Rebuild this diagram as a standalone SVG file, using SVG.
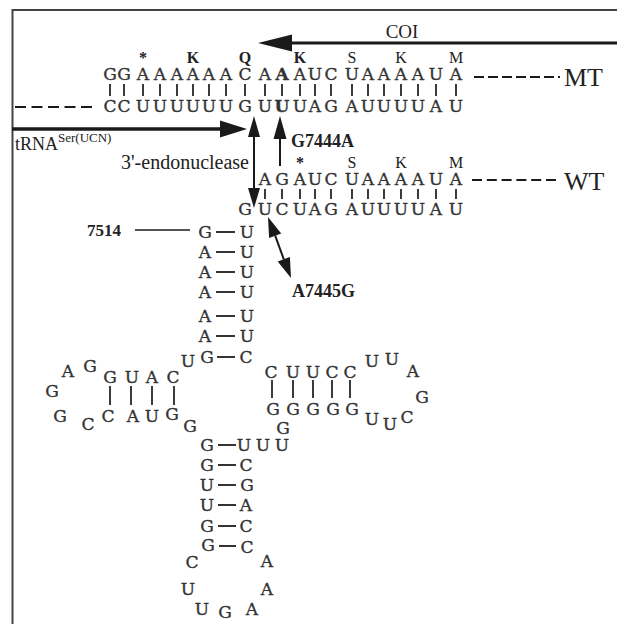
<svg xmlns="http://www.w3.org/2000/svg" width="617" height="624" viewBox="0 0 617 624">
<style>
.nt{font-family:"DejaVu Serif","Liberation Serif",serif;font-size:17px;fill:#333;stroke:#333;stroke-width:0.35;text-anchor:middle}
.lb{font-family:"Liberation Serif","Times New Roman",serif;fill:#222}
.aa{font-family:"Liberation Serif","Times New Roman",serif;font-size:16px;fill:#222;text-anchor:middle}
.b{font-weight:bold}
.tk{stroke:#333;stroke-width:1.9;fill:none}
.ln{stroke:#1a1a1a;fill:none}
.hd{fill:#1a1a1a}
</style>
<rect width="617" height="624" fill="#fff"/>
<path d="M12.5 624V10H617" fill="none" stroke="#444" stroke-width="2"/>

<g id="labels">
<text class="lb" x="402" y="38" font-size="19" text-anchor="middle">COI</text>
<text class="lb" x="564" y="86" font-size="26">MT</text>
<text class="lb" x="564" y="190" font-size="26">WT</text>
<text class="lb" x="15" y="150" font-size="18">tRNA<tspan font-size="13" dy="-8">Ser(UCN)</tspan></text>
<text class="lb" x="249" y="169" font-size="20" text-anchor="end">3'-endonuclease</text>
<text class="lb b" x="291" y="147" font-size="18">G7444A</text>
<text class="lb b" x="292" y="297" font-size="18">A7445G</text>
<text class="lb b" x="121" y="236" font-size="17" text-anchor="end">7514</text>
</g>

<g id="mt-duplex">
<text class="aa" y="63"><tspan class="b" x="143 193 245 300">*KQK</tspan><tspan x="352 401 456">SKM</tspan></text>
<text class="nt" y="80"><tspan x="110 124 143 160 177 193 209 226 245 265">GGAAAAAACA</tspan><tspan class="b" x="282">A</tspan><tspan x="300 315 331 352 368 384 401 418 436 456">AUCUAAAAUA</tspan></text>
<path class="tk" d="M110 84V96M124 84V96M143 84V96M160 84V96M177 84V96M193 84V96M209 84V96M226 84V96M245 84V96M265 84V96M282 84V96M300 84V96M315 84V96M331 84V96M352 84V96M368 84V96M384 84V96M401 84V96M418 84V96M436 84V96M456 84V96"/>
<text class="nt" y="112"><tspan x="110 124 143 160 177 193 209 226 245 265">CCUUUUUUGU</tspan><tspan class="b" x="282">U</tspan><tspan x="300 315 331 352 368 384 401 418 436 456">UAGAUUUUAU</tspan></text>
<line class="ln" x1="474" y1="77" x2="560" y2="77" stroke-width="2" stroke-dasharray="10 4"/>
<line class="ln" x1="15" y1="107" x2="92" y2="107" stroke-width="2" stroke-dasharray="11 5.5"/>
</g>

<g id="wt-duplex">
<text class="aa" y="168"><tspan class="b" x="300">*</tspan><tspan x="352 401 456">SKM</tspan></text>
<text class="nt" y="185" x="265 282 300 315 331 352 368 384 401 418 436 456">AGAUCUAAAAUA</text>
<path class="tk" d="M265 189V199M282 189V199M300 189V199M315 189V199M331 189V199M352 189V199M368 189V199M384 189V199M401 189V199M418 189V199M436 189V199M456 189V199"/>
<text class="nt" y="215" x="245 265 282 300 315 331 352 368 384 401 418 436 456">GUCUAGAUUUUAU</text>
<line class="ln" x1="472" y1="180" x2="556" y2="180" stroke-width="2" stroke-dasharray="10 4.8"/>
</g>

<g id="acceptor-stem">
<text class="nt" x="205" y="238">G</text><text class="nt" x="247" y="238">U</text>
<text class="nt" x="205" y="258">A</text><text class="nt" x="247" y="258">U</text>
<text class="nt" x="205" y="278">A</text><text class="nt" x="247" y="278">U</text>
<text class="nt" x="205" y="298">A</text><text class="nt" x="247" y="298">U</text>
<text class="nt" x="205" y="322">A</text><text class="nt" x="247" y="322">U</text>
<text class="nt" x="205" y="342">A</text><text class="nt" x="247" y="342">U</text>
<text class="nt" x="207" y="363">G</text><text class="nt" x="246" y="363">C</text>
<text class="nt" x="188" y="367">U</text>
<path class="tk" stroke-width="2" d="M216 232H235M216 252H235M216 272H235M216 292H235M216 316H235M216 336H235M217 357H235"/>
</g>

<g id="d-arm">
<text class="nt" y="383" x="110 132 152 173">GUAC</text>
<text class="nt" x="68" y="377">A</text>
<text class="nt" x="90" y="372">G</text>
<text class="nt" x="52" y="397">G</text>
<text class="nt" x="60" y="422">G</text>
<text class="nt" x="88" y="430">C</text>
<text class="nt" y="422" x="108 133 152">CAU</text>
<text class="nt" x="172" y="420">G</text>
<text class="nt" x="190" y="432">G</text>
<path class="tk" d="M110 386V405M131 386V405M152 386V405M174 386V405"/>
</g>

<g id="t-arm">
<text class="nt" y="378" x="271 293 313 332 350">CUUCC</text>
<text class="nt" x="372" y="367">U</text>
<text class="nt" x="392" y="365">U</text>
<text class="nt" x="413" y="377">A</text>
<text class="nt" x="422" y="403">G</text>
<text class="nt" x="407" y="423">C</text>
<text class="nt" x="390" y="430">U</text>
<text class="nt" x="372" y="425">U</text>
<text class="nt" y="415" x="273 293 313 333 352">GGGGG</text>
<text class="nt" x="283" y="434">G</text>
<path class="tk" d="M272 380V398M293 380V398M313 380V398M332 380V398M350 380V398"/>
</g>

<g id="anticodon-arm">
<text class="nt" y="451" x="207 244 263 282">GUUU</text>
<text class="nt" x="207" y="471">G</text><text class="nt" x="246" y="471">C</text>
<text class="nt" x="207" y="491">U</text><text class="nt" x="247" y="491">G</text>
<text class="nt" x="207" y="511">U</text><text class="nt" x="246" y="511">A</text>
<text class="nt" x="207" y="532">G</text><text class="nt" x="246" y="532">C</text>
<text class="nt" x="208" y="551">G</text><text class="nt" x="247" y="553">C</text>
<text class="nt" x="192" y="568">C</text>
<text class="nt" x="267" y="567">A</text>
<text class="nt" x="188" y="595">U</text>
<text class="nt" x="267" y="595">A</text>
<text class="nt" x="202" y="615">U</text>
<text class="nt" x="225" y="618">G</text>
<text class="nt" x="252" y="615">A</text>
<path class="tk" stroke-width="2" d="M218 445H236M218 465H236M218 485H236M218 505H236M218 526H236M219 546H236"/>
</g>

<g id="connectors">
<line class="ln" x1="290" y1="43" x2="617" y2="43" stroke-width="3"/>
<polygon class="hd" points="258,43 292,34.5 292,51.5"/>
<line class="ln" x1="12" y1="129" x2="222" y2="129" stroke-width="3.5"/>
<polygon class="hd" points="247,129 220,120.5 220,137.5"/>
<line class="ln" x1="254" y1="136" x2="254" y2="189" stroke-width="2"/>
<polygon class="hd" points="254,116 248,137 260,137"/>
<polygon class="hd" points="254,208 248,188 260,188"/>
<line class="ln" x1="280" y1="139" x2="280" y2="166" stroke-width="2"/>
<polygon class="hd" points="280,116 273.5,139 286.5,139"/>
<line class="ln" x1="275.2" y1="235.7" x2="283.8" y2="259.3" stroke-width="2"/>
<polygon class="hd" points="268,217 281.2,233.4 269.1,238"/>
<polygon class="hd" points="291,278 289.9,257 277.7,261.6"/>
<line class="ln" x1="135" y1="230" x2="190" y2="230" stroke-width="1.6"/>
</g>
</svg>
